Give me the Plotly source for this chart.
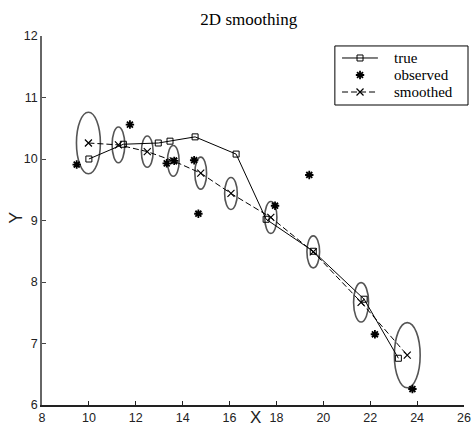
import plotly.graph_objects as go

# True trajectory
true_x = [10.0, 11.47, 12.96, 13.46, 14.53, 16.28, 17.56, 19.57, 21.74, 23.2]
true_y = [10.0, 10.24, 10.26, 10.29, 10.36, 10.08, 9.02, 8.5, 7.72, 6.76]

# Noisy observations
obs_x = [9.48, 11.75, 13.32, 13.64, 14.49, 14.67, 17.94, 19.4, 22.2, 23.8]
obs_y = [9.91, 10.56, 9.93, 9.97, 9.98, 9.11, 9.24, 9.74, 7.15, 6.26]

# Smoothed estimates
smooth_x = [9.98, 11.26, 12.49, 13.6, 14.77, 16.06, 17.76, 19.57, 21.61, 23.58]
smooth_y = [10.26, 10.23, 10.12, 9.97, 9.77, 9.44, 9.05, 8.49, 7.67, 6.81]

# Posterior uncertainty ellipses: semi-axes in x and y
ell_ax = [0.51, 0.27, 0.25, 0.25, 0.25, 0.27, 0.26, 0.27, 0.32, 0.55]
ell_ay = [0.50, 0.29, 0.255, 0.25, 0.26, 0.26, 0.26, 0.26, 0.32, 0.53]

x_ticks = [8, 10, 12, 14, 16, 18, 20, 22, 24, 26]
y_ticks = [6, 7, 8, 9, 10, 11, 12]

series_names = ["true", "observed", "smoothed"]

serif = "Liberation Serif, Times New Roman, serif"
sans = "Liberation Sans, Arial, Helvetica, sans-serif"

true_marker = dict(symbol="square-open", size=6, color="black", line=dict(width=1, color="black"))
obs_marker = dict(symbol="asterisk-open", size=7, color="black", line=dict(width=1.8, color="black"))
smooth_marker = dict(symbol="x-thin-open", size=7, color="black", line=dict(width=1.2, color="black"))
smooth_dash = "6px,3px"

fig = go.Figure()

fig.add_trace(go.Scatter(
    x=true_x, y=true_y, mode="lines+markers", name=series_names[0], showlegend=False,
    line=dict(color="black", width=1), marker=true_marker,
))
fig.add_trace(go.Scatter(
    x=obs_x, y=obs_y, mode="markers", name=series_names[1], showlegend=False,
    marker=obs_marker,
))
fig.add_trace(go.Scatter(
    x=smooth_x, y=smooth_y, mode="lines+markers", name=series_names[2], showlegend=False,
    line=dict(color="black", width=1, dash=smooth_dash), marker=smooth_marker,
))

for cx, cy, ax, ay in zip(smooth_x, smooth_y, ell_ax, ell_ay):
    fig.add_shape(
        type="circle", xref="x", yref="y",
        x0=cx - ax, x1=cx + ax, y0=cy - ay, y1=cy + ay,
        line=dict(color="#555555", width=1.6),
        layer="below",
    )

# Compact boxed key in the upper right, laid out in paper units
key_left, key_right, key_bottom, key_top = 0.694, 1.0095, 0.813, 0.973
key_rows = [0.9404, 0.8943, 0.8482]
key_line_x = (0.711, 0.796)
key_mark_x = 0.7536
key_text_x = 0.832

fig.add_shape(type="rect", xref="paper", yref="paper",
              x0=key_left, x1=key_right, y0=key_bottom, y1=key_top,
              line=dict(color="black", width=1), fillcolor="rgba(0,0,0,0)", layer="above")
fig.add_shape(type="line", xref="paper", yref="paper",
              x0=key_line_x[0], x1=key_line_x[1], y0=key_rows[0], y1=key_rows[0],
              line=dict(color="black", width=1), layer="below")
fig.add_shape(type="line", xref="paper", yref="paper",
              x0=key_line_x[0], x1=key_line_x[1], y0=key_rows[2], y1=key_rows[2],
              line=dict(color="black", width=1, dash=smooth_dash), layer="below")

# Key glyphs live on a hidden overlay axis pair spanning [0, 1]
for row, mk in zip(key_rows, [true_marker, obs_marker, smooth_marker]):
    fig.add_trace(go.Scatter(
        x=[key_mark_x], y=[row], xaxis="x2", yaxis="y2", mode="markers",
        marker=mk, showlegend=False, hoverinfo="skip", cliponaxis=False,
    ))

annotations = []
for row, label in zip(key_rows, series_names):
    annotations.append(dict(
        text=label, xref="paper", yref="paper", x=key_text_x, y=row,
        xanchor="left", yanchor="middle", showarrow=False, borderpad=0,
        font=dict(family=serif, size=15, color="black"),
    ))
annotations += [
    dict(text="X", xref="paper", yref="paper", x=0.505, y=-0.035,
         xanchor="center", yanchor="middle", showarrow=False, borderpad=0,
         font=dict(family=sans, size=17, color="#222222")),
    dict(text="Y", xref="paper", yref="paper", x=-0.062, y=0.507,
         xanchor="center", yanchor="middle", showarrow=False, textangle=-90,
         font=dict(family=sans, size=18, color="#222222")),
]

fig.update_layout(
    width=472, height=430,
    margin=dict(l=42, r=8, t=36, b=25, autoexpand=False),
    paper_bgcolor="white", plot_bgcolor="white",
    showlegend=False,
    title=dict(text="2D smoothing", x=0.49, xref="paper", y=0.955, yanchor="middle",
               xanchor="center", font=dict(family=serif, size=17, color="black")),
    xaxis=dict(
        range=[8, 26], tickvals=x_ticks, ticktext=[str(v) for v in x_ticks],
        showgrid=False, zeroline=False, showline=True, linecolor="#222222", linewidth=1.5,
        ticks="inside", ticklen=4, tickcolor="#222222", automargin=False,
        tickfont=dict(family=sans, size=12.5, color="#222222"),
    ),
    yaxis=dict(
        range=[6, 12], tickvals=y_ticks, ticktext=[str(v) for v in y_ticks],
        showgrid=False, zeroline=False, showline=True, linecolor="#666666", linewidth=1.5,
        ticks="inside", ticklen=4, tickcolor="#444444", automargin=False,
        tickfont=dict(family=sans, size=12.5, color="#222222"),
    ),
    xaxis2=dict(range=[0, 1], overlaying="x", visible=False, anchor="y2", automargin=False),
    yaxis2=dict(range=[0, 1], overlaying="y", visible=False, anchor="x2", automargin=False),
    annotations=annotations,
)

fig.write_html("out.html")
